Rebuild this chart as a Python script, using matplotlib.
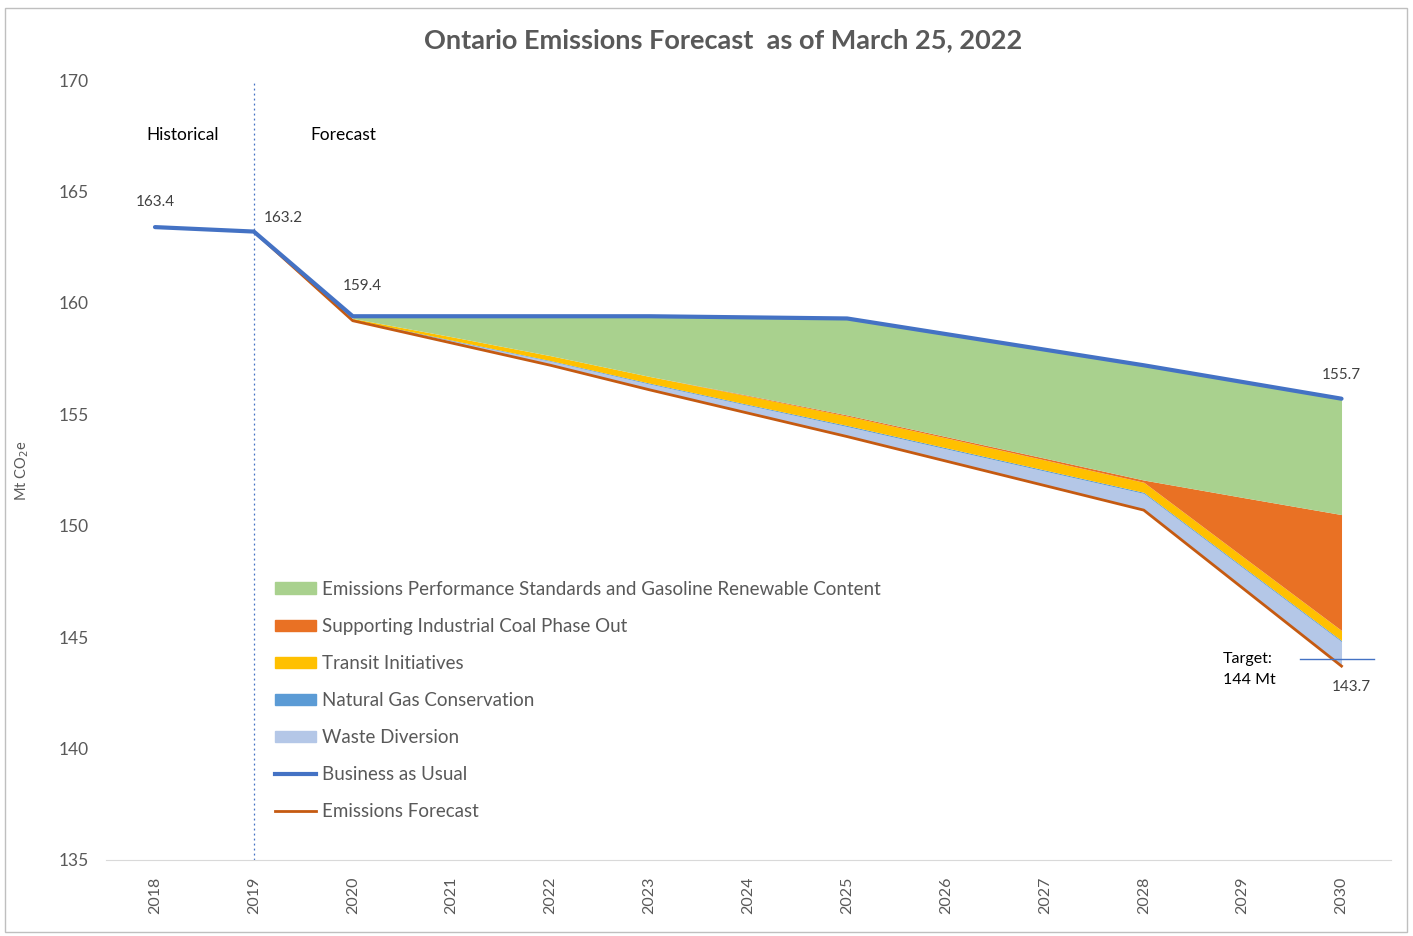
import matplotlib.pyplot as plt
from matplotlib.lines import Line2D
from matplotlib.patches import Patch, Rectangle
import numpy as np

plt.rcParams['font.family'] = ['Lato', 'DejaVu Sans']

# Business as usual, 2018-2030
bau_years = list(range(2018, 2031))
bau = [163.4, 163.2, 159.4, 159.4, 159.4, 159.4, 159.35, 159.3,
       158.6, 157.9, 157.2, 156.45, 155.7]

# Emissions forecast, 2019-2030
fc_years = list(range(2019, 2031))
forecast = [163.2, 159.2, 158.2, 157.2, 156.1, 155.05, 154.0,
            152.9, 151.8, 150.7, 147.2, 143.7]

# Reduction wedges stacked on top of the forecast, 2020-2030
years = list(range(2020, 2031))
waste = [0.02, 0.10, 0.18, 0.26, 0.35, 0.45, 0.55, 0.65, 0.75, 0.92, 1.10]
gas = [0.03, 0.03, 0.03, 0.04, 0.04, 0.05, 0.05, 0.05, 0.05, 0.05, 0.05]
transit = [0.05, 0.15, 0.22, 0.30, 0.38, 0.42, 0.44, 0.45, 0.45, 0.45, 0.45]
coal = [0.0, 0.0, 0.0, 0.0, 0.03, 0.05, 0.06, 0.08, 0.10, 2.65, 5.20]
eps = [0.10, 0.92, 1.77, 2.70, 3.50, 4.33, 4.60, 4.87, 5.15, 5.18, 5.20]

layers = [
    ("Waste Diversion", waste, "#B4C7E7"),
    ("Natural Gas Conservation", gas, "#5B9BD5"),
    ("Transit Initiatives", transit, "#FFC000"),
    ("Supporting Industrial Coal Phase Out", coal, "#E97124"),
    ("Emissions Performance Standards and Gasoline Renewable Content", eps, "#A9D18E"),
]

text_col = "#595959"

fig = plt.figure(figsize=(14.13, 9.36), dpi=100)
ax = fig.add_axes([0.0747, 0.0812, 0.9097, 0.8333])

#   Stack the wedges starting from the forecast line.
base = np.array(forecast[1:], dtype=float)
for name, vals, col in layers:
    top = base + np.array(vals)
    ax.fill_between(years, base, top, color=col, linewidth=0)
    base = top

ax.plot(bau_years, bau, color="#4472C4", lw=3, solid_capstyle="round", zorder=5)
ax.plot(fc_years, forecast, color="#C55A11", lw=2, zorder=4)

ax.axvline(2019, color="#4472C4", lw=0.9, ls=(0, (1.5, 2.5)), zorder=1)
ax.plot([2029.58, 2030.33], [144, 144], color="#4472C4", lw=1, zorder=6)

ax.text(2028.8, 143.55, "Target:\n144 Mt", fontsize=11.5, color="black",
        va="center", ha="left", linespacing=1.7)

# data labels
ax.text(2018.0, 164.35, "163.4", fontsize=11, color="#404040", ha="center")
ax.text(2019.1, 163.65, "163.2", fontsize=11, color="#404040", ha="left")
ax.text(2020.1, 160.6, "159.4", fontsize=11, color="#404040", ha="center")
ax.text(2030.0, 156.6, "155.7", fontsize=11, color="#404040", ha="center")
ax.text(2030.1, 142.6, "143.7", fontsize=11, color="#404040", ha="center")

ax.text(2018.28, 167.55, "Historical", fontsize=12.5, color="black", ha="center",
        va="center")
ax.text(2019.9, 167.55, "Forecast", fontsize=12.5, color="black", ha="center",
        va="center")

ax.set_xlim(2017.5, 2030.5)
ax.set_ylim(135, 170)
ax.set_yticks(range(135, 171, 5))
ax.set_xticks(bau_years)
ax.set_xticklabels([str(y) for y in bau_years], rotation=90)
ax.tick_params(axis="y", length=0, pad=12, labelsize=12.5, labelcolor=text_col)
ax.tick_params(axis="x", length=0, pad=12, labelsize=11.5, labelcolor=text_col)
for s in ["top", "right", "left"]:
    ax.spines[s].set_visible(False)
ax.spines["bottom"].set_color("#D9D9D9")

fig.text(0.016, 0.497, "Mt CO$_2$e", rotation=90, fontsize=10.5,
         color=text_col, ha="center", va="center")

fig.text(0.512, 0.957, "Ontario Emissions Forecast  as of March 25, 2022",
         fontsize=19.5, fontweight="bold", color=text_col, ha="center",
         va="center")

handles = [Patch(color=c, label=n) for n, v, c in reversed(layers)]
handles.append(Line2D([], [], color="#4472C4", lw=3, label="Business as Usual"))
handles.append(Line2D([], [], color="#C55A11", lw=2, label="Emissions Forecast"))
leg = ax.legend(handles=handles, loc="upper left", bbox_to_anchor=(0.132, 0.358),
                frameon=False, fontsize=13.5, handlelength=2.2,
                handleheight=0.55, handletextpad=0.3, labelspacing=1.07,
                borderpad=0, borderaxespad=0)
for t in leg.get_texts():
    t.set_color(text_col)

fig.add_artist(Rectangle((0.0035, 0.004), 0.9925, 0.987, transform=fig.transFigure,
                         fill=False, edgecolor="#BFBFBF", lw=1))

fig.savefig("out.png", dpi=100)
